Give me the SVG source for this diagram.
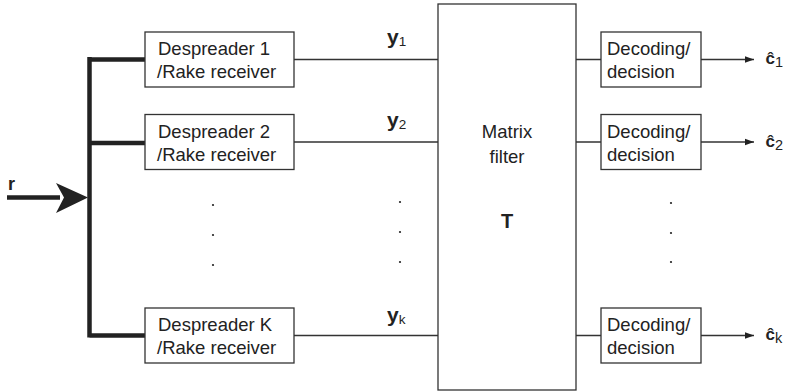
<svg xmlns="http://www.w3.org/2000/svg" width="787" height="392" viewBox="0 0 787 392">
<defs>
<marker id="ah" markerWidth="10" markerHeight="8" refX="9" refY="4" orient="auto" markerUnits="userSpaceOnUse">
<path d="M0,0.8 L9,4 L0,7.2 Z" fill="#222"/>
</marker>
</defs>
<style>
.box{fill:#fff;stroke:#333;stroke-width:1.3}
.t{font-family:"Liberation Sans",Arial,sans-serif;font-size:18.5px;fill:#222}
.b{font-family:"Liberation Sans",Arial,sans-serif;font-weight:bold;fill:#222}
.s{font-family:"Liberation Sans",Arial,sans-serif;fill:#222}
.ln{stroke:#333;stroke-width:1.3;fill:none}
.bus{stroke:#222;stroke-width:4.5;fill:none}
.dot{fill:#222}
</style>
<rect width="787" height="392" fill="#fff"/>
<g id="connectors">
<path class="bus" d="M89.5,57 V337.5 M89.5,59.5 H145 M89.5,143 H145 M89.5,335.5 H145"/>
<path class="bus" d="M7,197.5 H60"/>
<path d="M56,183 L88,197.5 L56,213 L64,197.5 Z" fill="#222"/>
<path class="ln" d="M294,59.5 H438 M294,142 H438 M294,335.5 H438"/>
<path class="ln" d="M576,59.5 H601 M576,142 H601 M576,335.5 H601"/>
<path class="ln" d="M701,59.5 H754" marker-end="url(#ah)"/>
<path class="ln" d="M701,142 H754" marker-end="url(#ah)"/>
<path class="ln" d="M701,335.5 H754" marker-end="url(#ah)"/>
</g>
<g id="input-r"><text class="b" x="8" y="190" font-size="18">r</text></g>
<g id="desp1">
<rect class="box" x="145" y="32" width="149" height="55"/>
<text class="t" x="158" y="55">Despreader 1</text>
<text class="t" x="157" y="78">/Rake receiver</text>
</g>
<g id="desp2">
<rect class="box" x="145" y="114.5" width="149" height="55"/>
<text class="t" x="158" y="137.5">Despreader 2</text>
<text class="t" x="157" y="160.5">/Rake receiver</text>
</g>
<g id="despK">
<rect class="box" x="145" y="308" width="149" height="55"/>
<text class="t" x="158" y="331">Despreader K</text>
<text class="t" x="157" y="354">/Rake receiver</text>
</g>
<g id="matrix">
<rect class="box" x="438" y="4" width="138" height="386"/>
<text class="t" x="507" y="138" text-anchor="middle">Matrix</text>
<text class="t" x="507" y="163" text-anchor="middle">filter</text>
<text class="b" x="507" y="228" font-size="20" text-anchor="middle">T</text>
</g>
<g id="dec1">
<rect class="box" x="601" y="32" width="100" height="55"/>
<text class="t" x="607" y="55">Decoding/</text>
<text class="t" x="607" y="78">decision</text>
</g>
<g id="dec2">
<rect class="box" x="601" y="114.5" width="100" height="55"/>
<text class="t" x="607" y="137.5">Decoding/</text>
<text class="t" x="607" y="160.5">decision</text>
</g>
<g id="decK">
<rect class="box" x="601" y="308" width="100" height="55"/>
<text class="t" x="607" y="331">Decoding/</text>
<text class="t" x="607" y="354">decision</text>
</g>
<g id="labels-y">
<text class="b" x="387" y="44" font-size="21">y<tspan class="s" font-weight="normal" font-size="13.5" dy="2">1</tspan></text>
<text class="b" x="387" y="127" font-size="21">y<tspan class="s" font-weight="normal" font-size="13.5" dy="2">2</tspan></text>
<text class="b" x="387" y="322" font-size="21">y<tspan class="s" font-weight="normal" font-size="13.5" dy="2">k</tspan></text>
</g>
<g id="labels-c">
<text class="b" x="765.5" y="64" font-size="17">ĉ<tspan font-weight="normal" font-size="14.5" dy="3">1</tspan></text>
<text class="b" x="765.5" y="147" font-size="17">ĉ<tspan font-weight="normal" font-size="14.5" dy="3">2</tspan></text>
<text class="b" x="765.5" y="340" font-size="17">ĉ<tspan font-weight="normal" font-size="14.5" dy="3">k</tspan></text>
</g>
<g id="dots">
<circle class="dot" cx="213" cy="205" r="1.1"/>
<circle class="dot" cx="213" cy="235" r="1.1"/>
<circle class="dot" cx="213" cy="265" r="1.1"/>
<circle class="dot" cx="400" cy="202" r="1.1"/>
<circle class="dot" cx="400" cy="232" r="1.1"/>
<circle class="dot" cx="400" cy="262" r="1.1"/>
<circle class="dot" cx="671" cy="203" r="1.1"/>
<circle class="dot" cx="671" cy="233" r="1.1"/>
<circle class="dot" cx="671" cy="262" r="1.1"/>
</g>
</svg>
